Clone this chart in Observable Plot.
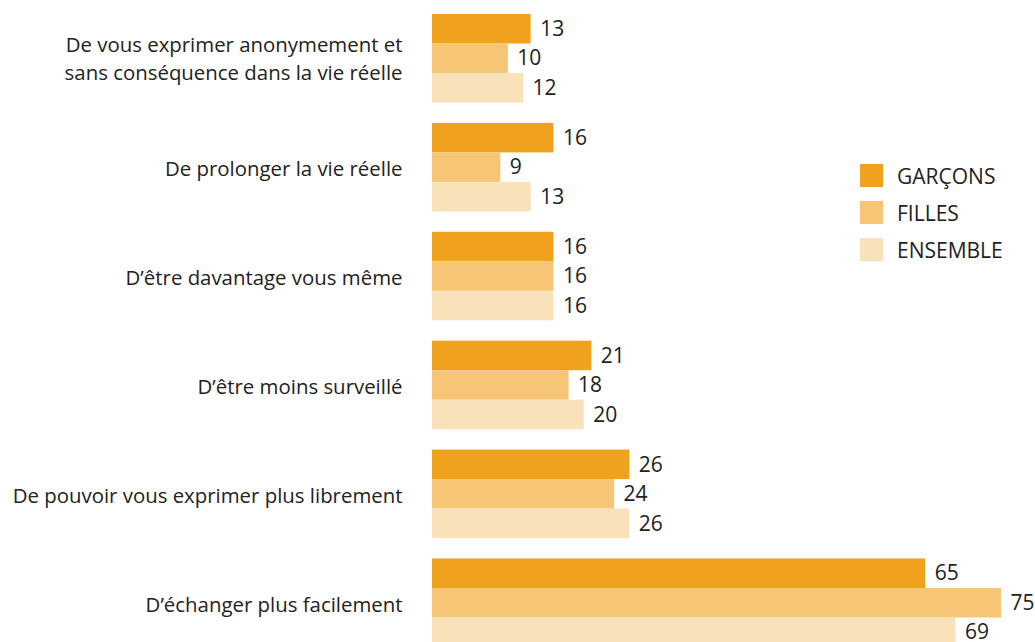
<!DOCTYPE html>
<html><head><meta charset="utf-8">
<script src="https://cdn.jsdelivr.net/npm/d3@7"></script>
<script src="https://cdn.jsdelivr.net/npm/@observablehq/plot@0.6"></script>
<style>
html,body{margin:0;padding:0;overflow:hidden;background:#fff;}
#wrap{position:relative;width:1035px;height:642px;font-family:"Open Sans",sans-serif;}
#legend{position:absolute;left:860px;top:164px;font-size:21px;color:#222;}
#legend .row{display:flex;align-items:center;height:23px;margin-bottom:14px;}
#legend .sw{width:23px;height:23px;margin-right:14px;}
</style></head>
<body><div id="wrap"><div id="legend"></div></div>
<script>
const categories = [
  "De vous exprimer anonymement et\nsans conséquence dans la vie réelle",
  "De prolonger la vie réelle",
  "D’être davantage vous même",
  "D’être moins surveillé",
  "De pouvoir vous exprimer plus librement",
  "D’échanger plus facilement"
];
const series = ["GARÇONS", "FILLES", "ENSEMBLE"];
const colors = ["#F0A11D", "#F6C676", "#F9E2BA"];
const garcons = [13, 16, 16, 21, 26, 65];
const filles = [10, 9, 16, 18, 24, 75];
const ensemble = [12, 13, 16, 20, 26, 69];

const values = [garcons, filles, ensemble];
const data = [];
categories.forEach((c, i) => series.forEach((s, j) => data.push({category: c, series: s, value: values[j][i]})));

const multi = categories.filter(d => d.includes("\n"));
const single = categories.filter(d => !d.includes("\n"));

const chart = Plot.plot({
  width: 1035,
  height: 647,
  marginLeft: 432,
  marginRight: 34,
  marginTop: 14,
  marginBottom: 0,
  style: {fontFamily: "Open Sans, sans-serif", color: "#222"},
  x: {domain: [0, 75], axis: null},
  fy: {domain: categories, paddingInner: 0.187, paddingOuter: 0, round: false, axis: null},
  y: {domain: series, padding: 0, round: false, axis: null},
  color: {domain: series, range: colors},
  marks: [
    Plot.barX(data, {fy: "category", y: "series", x: "value", fill: "series"}),
    Plot.text(data, {fy: "category", y: "series", x: "value", text: d => String(d.value), textAnchor: "start", dx: 9, dy: 0, fontSize: 21, fill: "#222"}),
    Plot.text(single, {fy: d => d, text: d => d, frameAnchor: "left", textAnchor: "end", dx: -30, dy: 2, fontSize: 20.4, fill: "#222"}),
    Plot.text(multi, {fy: d => d, text: d => d, frameAnchor: "left", textAnchor: "end", dx: -30, dy: -2, fontSize: 20.4, lineHeight: 1.37, fill: "#222"})
  ]
});
document.getElementById("wrap").prepend(chart);
chart.style.position = "absolute"; chart.style.left = "0"; chart.style.top = "0";

const leg = document.getElementById("legend");
series.forEach((s, i) => {
  const r = document.createElement("div"); r.className = "row";
  const sw = document.createElement("div"); sw.className = "sw"; sw.style.background = colors[i];
  const t = document.createElement("span"); t.textContent = s;
  r.append(sw, t); leg.append(r);
});
</script></body></html>
